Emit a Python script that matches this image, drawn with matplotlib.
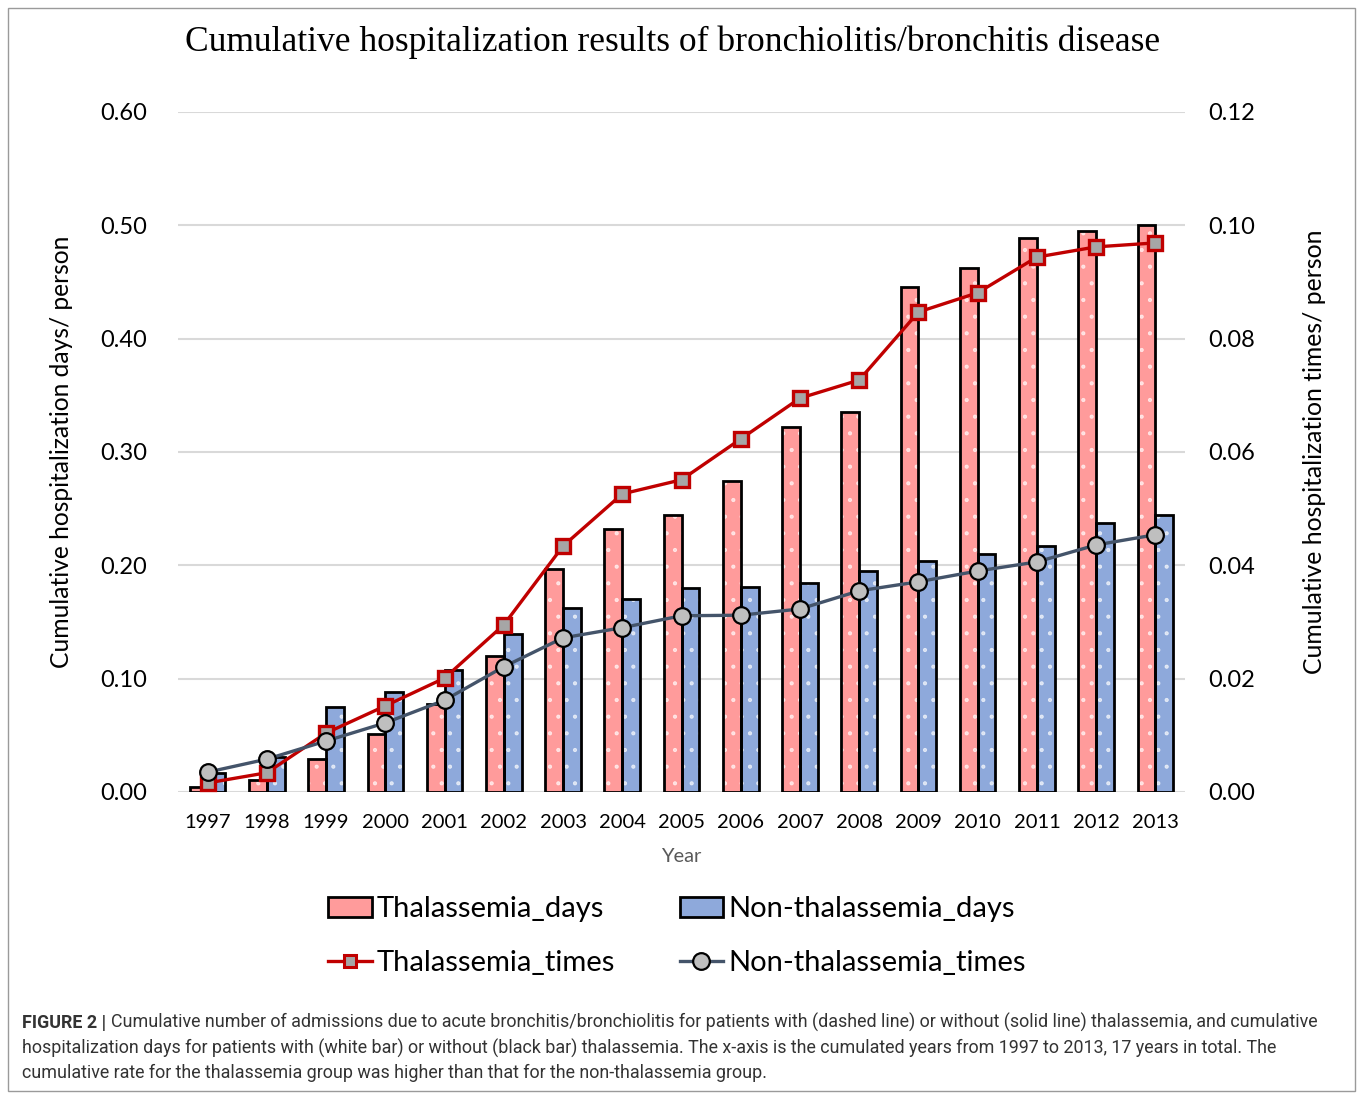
import matplotlib
matplotlib.use("Agg")
import matplotlib.pyplot as plt
import numpy as np
from matplotlib.patches import Rectangle
from matplotlib.lines import Line2D

## data
years = ["1997", "1998", "1999", "2000", "2001", "2002", "2003", "2004", "2005",
         "2006", "2007", "2008", "2009", "2010", "2011", "2012", "2013"]
thal_days = [0.004, 0.011, 0.029, 0.051, 0.078, 0.120, 0.197, 0.232, 0.244,
             0.274, 0.322, 0.335, 0.446, 0.462, 0.489, 0.495, 0.500]
non_days = [0.017, 0.031, 0.075, 0.088, 0.108, 0.139, 0.162, 0.170, 0.180,
            0.181, 0.184, 0.195, 0.204, 0.210, 0.217, 0.237, 0.244]
thal_times = [0.0016, 0.0034, 0.0104, 0.0152, 0.0201, 0.0295, 0.0434, 0.0526, 0.0551,
              0.0623, 0.0695, 0.0727, 0.0847, 0.0881, 0.0944, 0.0962, 0.0969]
non_times = [0.0035, 0.0058, 0.0090, 0.0122, 0.0162, 0.0221, 0.0272, 0.0290, 0.0311,
             0.0312, 0.0323, 0.0355, 0.0371, 0.0390, 0.0406, 0.0436, 0.0454]
left_ticks = [0.0, 0.1, 0.2, 0.3, 0.4, 0.5, 0.6]
right_ticks = [0.0, 0.02, 0.04, 0.06, 0.08, 0.10, 0.12]

pink = "#FF9B9B"
blue = "#8EA9DB"
red = "#C00000"
slate = "#44546A"
sans = ["Lato", "DejaVu Sans"]

fig = plt.figure(figsize=(13.6, 10.93), dpi=100)
fig.patch.set_facecolor("white")

# frame round the figure
fig.add_artist(Rectangle((8 / 1360, 1 - 1091 / 1093), 1347 / 1360, 1083 / 1093,
                         transform=fig.transFigure, fill=False, edgecolor="#9A9A9A", lw=1))

ax = fig.add_axes([178 / 1360, 1 - 792 / 1093, 1007 / 1360, 680 / 1093])
x = np.arange(len(years))
w = 0.30

plt.rcParams['hatch.linewidth'] = 0.6
for vals, col, off in [(thal_days, pink, -w / 2), (non_days, blue, w / 2)]:
    # faint dotted fill, then black outline on top
    ax.bar(x + off, vals, w, color=col, edgecolor="#FFFFFFAA", hatch=".", lw=0, zorder=2)
    ax.bar(x + off, vals, w, fill=False, edgecolor="black", lw=2, zorder=3)

ax.set_xlim(-0.5, len(years) - 0.5)
ax.set_ylim(0, 0.6)
ax.set_yticks(left_ticks)
ax.set_yticklabels([f"{v:.2f}" for v in left_ticks], fontsize=17, family=sans)
ax.set_xticks(x)
ax.set_xticklabels(years, fontsize=14.5, family=sans)
ax.tick_params(length=0, pad=22, axis="y")
ax.tick_params(length=0, pad=16, axis="x")
ax.grid(axis="y", color="#D9D9D9", lw=1.5, zorder=0)
for s in ax.spines.values():
    s.set_visible(False)
ax.axhline(0, color="#D0D0D0", lw=2, zorder=1)
ax.set_ylabel("Cumulative hospitalization days/ person", fontsize=17.7, family=sans, labelpad=20)
ax.set_xlabel("Year", fontsize=14.5, family=sans, color="#595959", labelpad=12)

ax2 = ax.twinx()
ax2.set_ylim(0, 0.12)
ax2.set_yticks(right_ticks)
ax2.set_yticklabels([f"{v:.2f}" for v in right_ticks], fontsize=17, family=sans)
ax2.tick_params(length=0, pad=17)
for s in ax2.spines.values():
    s.set_visible(False)
ax2.set_ylabel("Cumulative hospitalization times/ person", fontsize=17.8, family=sans, labelpad=34)

ax2.plot(x, thal_times, color=red, lw=2.4, marker="s", ms=9.5, mfc="#A6A6A6", mec=red,
         mew=2.4, zorder=5)
ax2.plot(x, non_times, color=slate, lw=2.4, marker="o", ms=12, mfc="#BFBFBF", mec="black",
         mew=1.6, zorder=5)

fig.text(673 / 1360, 1 - 42 / 1093, "Cumulative hospitalization results of bronchiolitis/bronchitis disease",
         ha="center", va="center", fontsize=25.6, family="Liberation Serif")

# legend
h_td = Rectangle((0, 0), 1, 1, facecolor=pink, edgecolor="black", lw=2)
h_nd = Rectangle((0, 0), 1, 1, facecolor=blue, edgecolor="black", lw=2)
h_tt = Line2D([], [], color=red, lw=2.4, marker="s", ms=9, mfc="#A6A6A6", mec=red, mew=2.2)
h_nt = Line2D([], [], color=slate, lw=2.4, marker="o", ms=12, mfc="#BFBFBF", mec="black", mew=1.6)
fig.legend([h_td, h_tt, h_nd, h_nt],
           ["Thalassemia_days", "Thalassemia_times", "Non-thalassemia_days", "Non-thalassemia_times"],
           ncol=2, loc="center", bbox_to_anchor=(677 / 1360, 1 - 936 / 1093), frameon=False,
           prop={"family": sans, "size": 21}, handlelength=1.5, handleheight=0.7,
           handletextpad=0.17, columnspacing=2.2, labelspacing=0.95)

# caption
cap_col = "#333333"
cap_font = ["Roboto", "DejaVu Sans"]
cap_size = 12.9
lines = ["Cumulative number of admissions due to acute bronchitis/bronchiolitis for patients with (dashed line) or without (solid line) thalassemia, and cumulative",
         "hospitalization days for patients with (white bar) or without (black bar) thalassemia. The x-axis is the cumulated years from 1997 to 2013, 17 years in total. The",
         "cumulative rate for the thalassemia group was higher than that for the non-thalassemia group."]
b = fig.text(22 / 1360, 1 - 1023 / 1093, "FIGURE 2 | ", fontsize=cap_size, family=cap_font,
             weight="bold", color=cap_col, va="center")
ax.annotate(lines[0], xy=(1, 0), xycoords=b, va="bottom", ha="left",
            fontsize=cap_size, family=cap_font, color=cap_col, annotation_clip=False)
fig.text(22 / 1360, 1 - 1048 / 1093, lines[1], fontsize=cap_size, family=cap_font, color=cap_col, va="center")
fig.text(22 / 1360, 1 - 1073 / 1093, lines[2], fontsize=cap_size, family=cap_font, color=cap_col, va="center")

fig.savefig("out.png", dpi=100, facecolor="white")
